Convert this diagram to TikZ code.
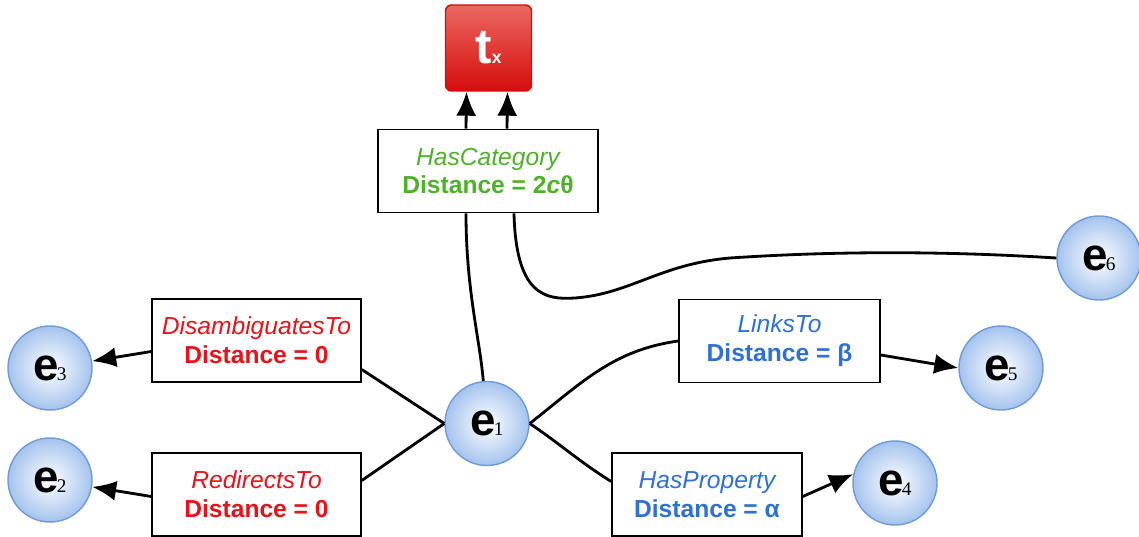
\documentclass[tikz,border=0pt]{standalone}
\usepackage{fontspec}
\setmainfont{Liberation Sans}
\newfontfamily\subfont{Liberation Serif}
\usetikzlibrary{arrows.meta,shadings}
\definecolor{catgreen}{RGB}{78,178,40}
\definecolor{relred}{RGB}{232,18,24}
\definecolor{relblue}{RGB}{45,112,214}
\definecolor{ballrim}{RGB}{110,155,215}
\definecolor{ballfill}{RGB}{165,195,238}
\definecolor{toptop}{RGB}{236,104,98}
\definecolor{topbot}{RGB}{214,12,12}
\newcommand{\entlabel}[1]{{\fontsize{13}{13}\selectfont\bfseries e}\kern-0.5pt{\subfont\fontsize{5.5}{5.5}\selectfont #1}}
\tikzset{
  ent/.style={circle, minimum size=0.84cm, inner sep=0pt, draw=ballrim, line width=0.4pt,
    inner color=white, outer color=ballfill},
  rel/.style={draw, line width=0.45pt, fill=white, align=center, inner sep=0pt,
    minimum height=0.83cm, font=\fontsize{7}{8.2}\selectfont},
  con/.style={line width=0.8pt},
  arr/.style={con, -{Latex[length=0.24cm,width=0.2cm]}}
}
\begin{document}
\begin{tikzpicture}
\useasboundingbox (0,-5.37) rectangle (11.39,0);

% type node
\node[rounded corners=0.06cm, draw=topbot, top color=toptop, bottom color=topbot,
  minimum width=0.86cm, minimum height=0.86cm, inner sep=0pt, text=white]
  (tx) at (4.885,-0.48) {{\fontsize{14}{14}\selectfont\bfseries t}{\fontsize{5}{5}\selectfont\bfseries x}};

% entities
\node[ent] (e1) at (4.87,-4.235) {\entlabel{1}};
\node[ent] (e2) at (0.50,-4.80) {\entlabel{2}};
\node[ent] (e3) at (0.50,-3.68) {\entlabel{3}};
\node[ent] (e4) at (8.95,-4.83) {\entlabel{4}};
\node[ent] (e5) at (10.01,-3.68) {\entlabel{5}};
\node[ent] (e6) at (10.99,-2.58) {\entlabel{6}};

% relations
\node[rel, minimum width=2.2cm] (cat) at (4.88,-1.71)
  {\textcolor{catgreen}{\itshape HasCategory}\\\textcolor{catgreen}{\bfseries Distance = 2\textit{c}θ}};
\node[rel, minimum width=2.09cm] (dis) at (2.565,-3.405)
  {\textcolor{relred}{\itshape DisambiguatesTo}\\\textcolor{relred}{\bfseries Distance = 0}};
\node[rel, minimum width=2.09cm] (red) at (2.565,-4.945)
  {\textcolor{relred}{\itshape RedirectsTo}\\\textcolor{relred}{\bfseries Distance = 0}};
\node[rel, minimum width=2.01cm] (lnk) at (7.795,-3.41)
  {\textcolor{relblue}{\itshape LinksTo}\\\textcolor{relblue}{\bfseries Distance = β}};
\node[rel, minimum width=1.90cm] (prp) at (7.07,-4.945)
  {\textcolor{relblue}{\itshape HasProperty}\\\textcolor{relblue}{\bfseries Distance = α}};

% category links
\draw[arr] ([xshift=-0.22cm]cat.north) -- ([xshift=-0.22cm]tx.south);
\draw[arr] ([xshift=0.19cm]cat.north) -- ([xshift=0.19cm]tx.south);
\draw[con] ([xshift=-0.22cm]cat.south) .. controls (4.66,-2.9) and (4.8,-3.4) .. (e1.95);
\draw[con] ([xshift=0.26cm]cat.south) .. controls (5.16,-2.95) and (5.45,-3.0) .. (5.75,-2.98)
  .. controls (6.3,-2.94) and (6.6,-2.64) .. (7.3,-2.58)
  .. controls (8.5,-2.5) and (9.6,-2.52) .. (e6.west);

% left side
\draw[con] (e1.west) -- ([yshift=-0.29cm]dis.east);
\draw[con] (e1.west) -- ([yshift=0.14cm]red.east);
\draw[arr] ([yshift=-0.11cm]dis.west) -- (e3);
\draw[arr] ([yshift=-0.02cm]red.west) -- (e2);

% right side
\draw[con] (e1.east) to[out=38,in=188] (lnk.west);
\draw[con] (e1.east) to[out=-34,in=148] ([yshift=0.13cm]prp.west);
\draw[arr] ([yshift=-0.14cm]lnk.east) -- (e5.west);
\draw[arr] ([yshift=-0.02cm]prp.east) -- (e4.168);
\end{tikzpicture}
\end{document}
